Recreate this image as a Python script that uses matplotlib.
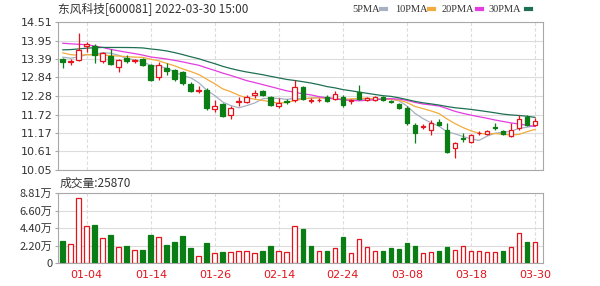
import numpy as np
import pandas as pd
import matplotlib
matplotlib.use('Agg')
import matplotlib.pyplot as plt
from matplotlib.lines import Line2D

CJK = ['Noto Sans CJK SC', 'DejaVu Sans']

dates = ['12-29', '12-30', '12-31',
         '01-04', '01-05', '01-06', '01-07', '01-10', '01-11', '01-12', '01-13', '01-14',
         '01-17', '01-18', '01-19', '01-20', '01-21', '01-24', '01-25', '01-26', '01-27', '01-28',
         '02-07', '02-08', '02-09', '02-10', '02-11', '02-14', '02-15', '02-16', '02-17', '02-18',
         '02-21', '02-22', '02-23', '02-24', '02-25', '02-28',
         '03-01', '03-02', '03-03', '03-04', '03-07', '03-08', '03-09', '03-10', '03-11',
         '03-14', '03-15', '03-16', '03-17', '03-18', '03-21', '03-22', '03-23', '03-24',
         '03-25', '03-28', '03-29', '03-30']

opens = [13.39, 13.31, 13.36, 13.79, 13.79, 13.34, 13.49, 13.16, 13.42, 13.33,
         13.39, 13.21, 12.86, 13.12, 13.06, 13.00, 12.64, 12.44, 12.46, 11.89,
         12.04, 11.71, 12.10, 12.11, 12.31, 12.43, 12.26, 11.98, 12.13, 12.16,
         12.55, 12.12, 12.15, 12.25, 12.20, 12.25, 12.14, 12.40, 12.16, 12.16,
         12.26, 12.13, 12.04, 11.92, 11.42, 11.34, 11.26, 11.50, 11.26, 10.71,
         11.00, 10.89, 11.15, 11.13, 11.35, 11.22, 11.07, 11.32, 11.65, 11.41]
highs = [13.42, 13.38, 14.17, 13.92, 13.85, 13.60, 13.69, 13.39, 13.52, 13.40,
         13.43, 13.24, 13.30, 13.27, 13.10, 13.03, 12.70, 12.58, 12.52, 12.16,
         12.07, 11.98, 12.25, 12.31, 12.46, 12.46, 12.28, 12.22, 12.18, 12.76,
         12.58, 12.22, 12.22, 12.31, 12.42, 12.31, 12.20, 12.62, 12.25, 12.29,
         12.29, 12.17, 12.07, 11.97, 11.47, 11.44, 11.56, 11.59, 11.47, 10.89,
         11.16, 11.14, 11.22, 11.25, 11.47, 11.26, 11.47, 11.71, 11.71, 11.62]
lows = [13.11, 13.21, 13.33, 13.62, 13.27, 13.27, 13.21, 13.01, 13.27, 13.28,
        13.18, 12.73, 12.76, 12.91, 12.74, 12.61, 12.40, 12.37, 11.86, 11.80,
        11.65, 11.59, 11.98, 12.07, 12.22, 12.28, 11.98, 11.92, 12.05, 12.10,
        12.15, 12.06, 12.10, 12.10, 12.16, 11.95, 12.04, 12.15, 12.12, 12.13,
        12.13, 12.07, 11.88, 11.41, 10.85, 11.28, 11.11, 11.38, 10.56, 10.41,
        10.89, 10.85, 11.10, 11.10, 11.26, 11.10, 11.04, 11.26, 11.38, 11.38]
closes = [13.29, 13.34, 13.67, 13.84, 13.52, 13.57, 13.24, 13.36, 13.34, 13.35,
          13.22, 12.76, 13.21, 13.04, 12.78, 12.66, 12.44, 12.47, 11.91, 11.98,
          11.68, 11.92, 12.13, 12.25, 12.38, 12.31, 12.01, 12.08, 12.11, 12.55,
          12.20, 12.16, 12.17, 12.13, 12.35, 12.01, 12.17, 12.20, 12.22, 12.26,
          12.16, 12.11, 11.91, 11.46, 11.15, 11.37, 11.47, 11.41, 10.59, 10.86,
          10.97, 11.11, 11.18, 11.22, 11.31, 11.13, 11.26, 11.59, 11.41, 11.53]
# closes before the visible window, only needed to warm up the moving averages
prev_closes = [13.05, 13.10, 13.12, 13.20, 13.25, 13.30, 13.35, 13.38, 13.45, 13.50,
               13.70, 13.95, 14.10, 14.30, 14.45, 14.40, 14.25, 14.20, 14.15, 14.10,
               13.90, 13.80, 13.70, 13.60, 13.55, 13.50, 13.45, 13.52, 13.49]
volumes = [27700, 23500, 81400, 46500, 47800, 31900, 35200, 20500, 21400, 16400,
           16400, 35200, 32300, 22600, 26000, 34000, 19300, 8800, 25600, 13000,
           14300, 14300, 15500, 15500, 12200, 15500, 21400, 15500, 14300, 46500,
           42400, 21800, 15100, 15100, 19300, 32300, 13000, 29800, 20500, 15100,
           15100, 19300, 17600, 24700, 21400, 13000, 14300, 15500, 20500, 16400,
           21400, 15100, 15100, 14300, 14300, 15500, 20500, 37300, 26000, 25870]

price_ticks = [10.05, 10.61, 11.17, 11.72, 12.28, 12.84, 13.39, 13.95, 14.51]
vol_ticks = [0, 22025, 44050, 66075, 88100]
vol_labels = ['0', '2.20万', '4.40万', '6.60万', '8.81万']
ma_periods = [5, 10, 20, 30]
ma_names = ['5PMA', '10PMA', '20PMA', '30PMA']
ma_colors = ['#a7b1c2', '#f2ab3c', '#e33ce0', '#1e7052']

RED = '#e4141c'
GREEN = '#0a7d14'
GRID = '#dcdcdc'
SPINE = '#a8a8a8'
TXT = '#333333'

x = np.arange(len(dates))
o = np.array(opens); c = np.array(closes)
h = np.array(highs); l = np.array(lows)
up = c >= o
all_close = pd.Series(prev_closes + closes)
vol_up = np.diff(np.array([prev_closes[-1]] + closes)) >= 0

fig = plt.figure(figsize=(6, 2.86), dpi=100)
ax = fig.add_axes([58/600, 1-170/286, 485/600, 148/286])
axv = fig.add_axes([58/600, 1-263/286, 485/600, 70/286])

tick_pos = list(range(3, len(dates), 8))

for a in (ax, axv):
    a.set_xlim(-0.6, 60)
    a.set_xticks(tick_pos)
    a.grid(axis='x', color=GRID, linestyle=(0, (3, 2)), linewidth=0.8)
    a.grid(axis='y', color=GRID, linestyle='-', linewidth=0.8)
    a.set_axisbelow(True)
    for s in a.spines.values():
        s.set_color(SPINE)
        s.set_linewidth(0.8)
    a.tick_params(axis='both', length=2, color=SPINE, labelsize=8, labelcolor=TXT, pad=2)

# moving averages
for n, col in zip(ma_periods, ma_colors):
    ma = all_close.rolling(n).mean().values[len(prev_closes):]
    ax.plot(x, ma, color=col, lw=0.9, zorder=2)

# candles
w = 0.6
for i in x:
    col = RED if up[i] else GREEN
    ax.vlines(i, l[i], h[i], color=col, lw=0.9, zorder=3)
    bottom = min(o[i], c[i])
    height = max(abs(c[i] - o[i]), 0.008)
    ax.bar(i, height, w, bottom=bottom, facecolor='white' if up[i] else GREEN,
           edgecolor=col, linewidth=0.9, zorder=4)

ax.set_ylim(10.05, 14.51)
ax.set_yticks(price_ticks)
ax.set_yticklabels(['%.2f' % p for p in price_ticks])
ax.tick_params(axis='x', labelbottom=False, length=0)

# volume
for i in x:
    col = RED if vol_up[i] else GREEN
    axv.bar(i, volumes[i], w, facecolor='white' if vol_up[i] else GREEN,
            edgecolor=col, linewidth=0.9, zorder=3)
axv.set_ylim(0, 88100)
axv.set_yticks(vol_ticks)
axv.set_yticklabels(vol_labels, family=CJK)
axv.set_xticklabels([dates[p] for p in tick_pos], color=RED, fontsize=8)
axv.tick_params(axis='x', length=0, pad=5)

fig.text(58/600, 1-9/286, '东风科技[600081] 2022-03-30 15:00', family=CJK,
         fontsize=8.5, color=TXT, va='center', ha='left')
fig.text(60/600, 1-183/286, '成交量:%d' % volumes[-1], family=CJK,
         fontsize=8.5, color=TXT, va='center', ha='left')

# legend row
leg_x = [352, 395, 442, 489]
sw_x = [381, 429, 477, 526]
for lx, sx, name, col in zip(leg_x, sw_x, ma_names, ma_colors):
    fig.text(lx/600, 1-9/286, name, fontsize=7.5, family='Liberation Serif',
             color=TXT, va='center', ha='left')
    fig.add_artist(Line2D([sx/600, (sx+5)/600], [1-9/286, 1-9/286],
                          color=col, lw=3, transform=fig.transFigure))

fig.savefig('out.png', dpi=100)
